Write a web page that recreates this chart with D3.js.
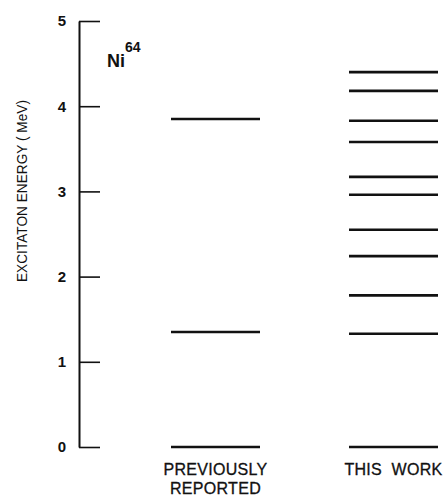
<!DOCTYPE html>
<html lang="en">
  <head>
    <meta charset="UTF-8" />
    <title>Ni64 levels</title>
    <script src="https://d3js.org/d3.v7.min.js"></script>
    <style>
      body { margin: 0; background: #fff; }
      text { font-family: 'Liberation Sans', Arial, sans-serif; fill: #111; }
    </style>
  </head>
  <body>
    <svg width="445" height="497"></svg>
    <script>
      // level energies in MeV
      var columns = ['PREVIOUSLY REPORTED', 'THIS WORK']
      var previous = [0, 1.35, 3.85]
      var thisWork = [0, 1.33, 1.78, 2.24, 2.55, 2.96, 3.17, 3.58, 3.83, 4.18, 4.40]
      var yTicks = [0, 1, 2, 3, 4, 5]

      var svg = d3.select('svg')

      var y = d3.scaleLinear().domain([0, 5]).range([447, 21])
      var x = d3.scaleBand().domain(columns).range([171, 438]).paddingInner(0.5).paddingOuter(0)

      // axis: ticks point inward, labels on the left
      var axis = svg.append('g')
        .attr('transform', 'translate(79,0)')
        .call(d3.axisLeft(y).tickValues(yTicks).tickFormat(d3.format('d'))
          .tickSizeInner(-21).tickSizeOuter(0).tickPadding(13))
      axis.select('.domain').attr('stroke', '#111').attr('stroke-width', 2)
      axis.selectAll('.tick line').attr('stroke', '#111').attr('stroke-width', 1.6)
      axis.selectAll('.tick text')
        .attr('font-size', 15).attr('font-weight', 'bold')
        .style('font-family', "'Liberation Sans', Arial, sans-serif")
        .attr('fill', '#111')

      // condensed-looking lettering to fit the same length
      svg.append('text')
        .attr('transform', 'translate(27,191) rotate(-90)')
        .attr('text-anchor', 'middle')
        .attr('font-size', 15)
        .attr('textLength', 182)
        .attr('lengthAdjust', 'spacingAndGlyphs')
        .attr('fill', '#111')
        .text('EXCITATON ENERGY ( MeV)')

      var ni = svg.append('text').attr('x', 107).attr('y', 67)
        .attr('font-size', 18).attr('font-weight', 'bold').attr('fill', '#111')
      ni.append('tspan').text('Ni')
      ni.append('tspan').attr('dy', -15).attr('font-size', 14).text('64')

      var levels = [previous, thisWork]
      levels.forEach(function(list, i) {
        svg.append('g').selectAll('line')
          .data(list)
          .enter()
          .append('line')
          .attr('x1', x(columns[i]))
          .attr('x2', x(columns[i]) + x.bandwidth())
          .attr('y1', function(d) { return y(d) })
          .attr('y2', function(d) { return y(d) })
          .attr('stroke', '#111')
          .attr('stroke-width', 2.6)
      })

      // column labels
      var labelLines = [['PREVIOUSLY', 'REPORTED'], ['THIS  WORK']]
      labelLines.forEach(function(lines, i) {
        var cx = x(columns[i]) + x.bandwidth() / 2
        svg.append('g').selectAll('text')
          .data(lines)
          .enter()
          .append('text')
          .attr('x', cx)
          .attr('y', function(d, j) { return 475 + j * 19 })
          .attr('text-anchor', 'middle')
          .attr('font-size', 16)
          .attr('letter-spacing', 0.3)
          .attr('fill', '#111')
          .attr('stroke', '#111')
          .attr('stroke-width', 0.3)
          .style('white-space', 'pre')
          .text(function(d) { return d })
      })
    </script>
  </body>
</html>
